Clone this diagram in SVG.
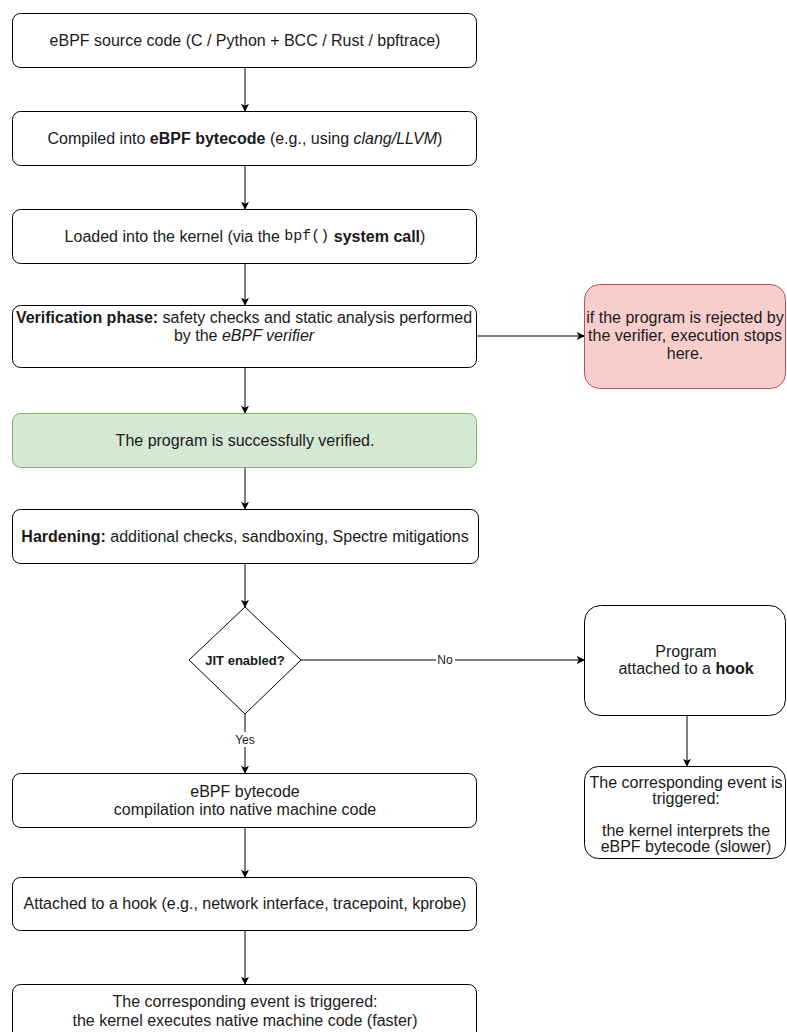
<svg xmlns="http://www.w3.org/2000/svg" width="787" height="1032" viewBox="0 0 787 1032">
<defs>
<style>
.box{fill:#ffffff;stroke:#000000;stroke-width:1}
.ok{fill:#d5e8d4;stroke:#82b366;stroke-width:1}
.bad{fill:#f8cecc;stroke:#b85450;stroke-width:1}
.t{font-family:"Liberation Sans",Arial,sans-serif;font-size:16px;fill:#1a1a1a;text-anchor:middle;dominant-baseline:central}
.lbl{font-family:"Liberation Sans",Arial,sans-serif;font-size:12px;fill:#1a1a1a;text-anchor:middle;dominant-baseline:central}
.dq{font-family:"Liberation Sans",Arial,sans-serif;font-size:13px;font-weight:bold;fill:#1a1a1a;text-anchor:middle;dominant-baseline:central}
.b{font-weight:bold}
.i{font-style:italic}
.m{font-family:"Liberation Mono","Courier New",monospace;font-size:15px}
.edge{fill:none;stroke:#000000;stroke-width:1;marker-end:url(#arr)}
</style>
<marker id="arr" viewBox="0 0 10 10" refX="9" refY="5" markerWidth="8" markerHeight="8" markerUnits="userSpaceOnUse" orient="auto">
<path d="M0,0 L10,5 L0,10 L2.5,5 z" fill="#000000"/>
</marker>
</defs>
<rect width="787" height="1032" fill="#ffffff"/>
<g id="connectors">
<path class="edge" d="M245,67 L245,111"/>
<path class="edge" d="M245,165 L245,209"/>
<path class="edge" d="M245,263 L245,305"/>
<path class="edge" d="M476,336 L584,336"/>
<path class="edge" d="M245,367 L245,413"/>
<path class="edge" d="M245,467 L245,509"/>
<path class="edge" d="M245,563 L245,607"/>
<path class="edge" d="M301,660 L584,660"/>
<path class="edge" d="M245,714 L245,773"/>
<path class="edge" d="M687,715 L687,766"/>
<path class="edge" d="M245,827 L245,877"/>
<path class="edge" d="M245,930 L245,984"/>
<rect x="436" y="652" width="19" height="15" fill="#ffffff"/>
<text class="lbl" x="445" y="660">No</text>
<rect x="233" y="732" width="24" height="15" fill="#ffffff"/>
<text class="lbl" x="245" y="740">Yes</text>
</g>
<g id="n-source">
<rect class="box" x="12.5" y="13.5" width="464" height="54" rx="8"/>
<text class="t" x="245" y="40">eBPF source code (C / Python + BCC / Rust / bpftrace)</text>
</g>
<g id="n-compile">
<rect class="box" x="12.5" y="111.5" width="464" height="54" rx="8"/>
<text class="t" x="245" y="138">Compiled into <tspan class="b">eBPF bytecode</tspan> (e.g., using <tspan class="i">clang/LLVM</tspan>)</text>
</g>
<g id="n-load">
<rect class="box" x="12.5" y="209.5" width="464" height="54" rx="8"/>
<text class="t" x="245" y="236">Loaded into the kernel (via the <tspan class="m">bpf()</tspan> <tspan class="b">system call</tspan>)</text>
</g>
<g id="n-verify">
<rect class="box" x="12.5" y="305.5" width="464" height="62" rx="8"/>
<text class="t" x="244" y="317"><tspan class="b">Verification phase:</tspan> safety checks and static analysis performed</text>
<text class="t" x="244" y="335">by the <tspan class="i">eBPF verifier</tspan></text>
</g>
<g id="n-reject">
<rect class="bad" x="584.5" y="284.5" width="201" height="104" rx="15"/>
<text class="t" x="685" y="317">if the program is rejected by</text>
<text class="t" x="685" y="335">the verifier, execution stops</text>
<text class="t" x="685" y="353">here.</text>
</g>
<g id="n-verified">
<rect class="ok" x="12.5" y="413.5" width="464" height="54" rx="8"/>
<text class="t" x="245" y="440">The program is successfully verified.</text>
</g>
<g id="n-harden">
<rect class="box" x="12.5" y="509.5" width="466" height="54" rx="8"/>
<text class="t" x="245" y="536"><tspan class="b">Hardening:</tspan> additional checks, sandboxing, Spectre mitigations</text>
</g>
<g id="n-jit">
<path class="box" d="M245,607 L301,660 L245,714 L189,660 Z"/>
<text class="dq" x="245" y="660">JIT enabled?</text>
</g>
<g id="n-interp-hook">
<rect class="box" x="584.5" y="605.5" width="201" height="110" rx="16"/>
<text class="t" x="686" y="651">Program</text>
<text class="t" x="686" y="668">attached to a <tspan class="b">hook</tspan></text>
</g>
<g id="n-interp-event">
<rect class="box" x="584.5" y="766.5" width="201" height="92" rx="14"/>
<text class="t" x="686" y="782">The corresponding event is</text>
<text class="t" x="686" y="798">triggered:</text>
<text class="t" x="686" y="830">the kernel interprets the</text>
<text class="t" x="686" y="846">eBPF bytecode (slower)</text>
</g>
<g id="n-jit-compile">
<rect class="box" x="12.5" y="773.5" width="464" height="54" rx="8"/>
<text class="t" x="245" y="791">eBPF bytecode</text>
<text class="t" x="245" y="809">compilation into native machine code</text>
</g>
<g id="n-attach">
<rect class="box" x="12.5" y="877.5" width="464" height="53" rx="8"/>
<text class="t" x="245" y="903">Attached to a hook (e.g., network interface, tracepoint, kprobe)</text>
</g>
<g id="n-exec">
<rect class="box" x="12.5" y="984.5" width="464" height="56" rx="8"/>
<text class="t" x="245" y="1001">The corresponding event is triggered:</text>
<text class="t" x="245" y="1020">the kernel executes native machine code (faster)</text>
</g>
</svg>
